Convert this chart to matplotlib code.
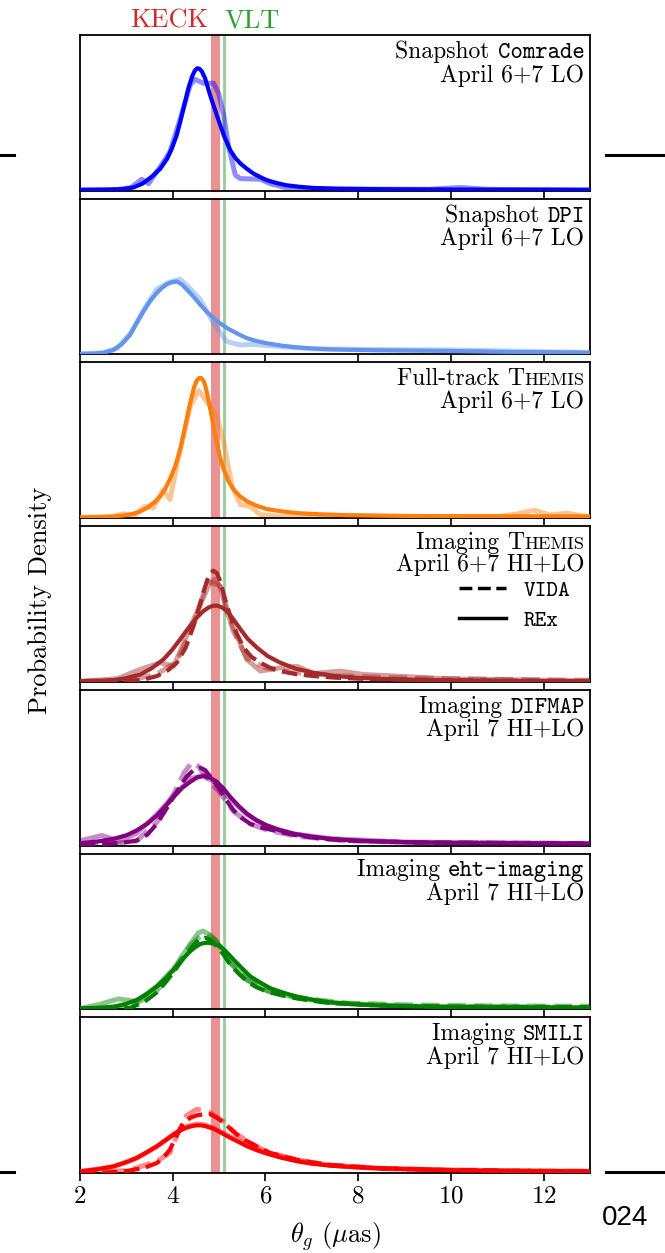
import matplotlib
matplotlib.use("Agg")
from matplotlib import pyplot as plt
from matplotlib.lines import Line2D
from matplotlib.offsetbox import TextArea, HPacker, VPacker, AnchoredOffsetbox

plt.rcParams['font.family'] = 'serif'
plt.rcParams['font.serif'] = ['cmr10']
plt.rcParams['mathtext.fontset'] = 'cm'
plt.rcParams['axes.formatter.use_mathtext'] = True
plt.rcParams['axes.unicode_minus'] = False

# --- data (relative probability density vs theta_g in uas) ---

# Snapshot Comrade
comrade_x = [2.0, 2.5, 2.9, 3.15, 3.35, 3.55, 3.73, 3.88, 3.98, 4.08, 4.16, 4.25, 4.34, 4.42, 4.48, 4.53, 4.58, 4.63, 4.70, 4.81, 4.95, 5.10, 5.24, 5.35, 5.46, 5.6, 5.74, 5.9, 6.03, 6.25, 6.46, 6.75, 7.04, 7.6, 8.5, 10.0, 13.0]
comrade_fit = [0.005, 0.006, 0.009, 0.02, 0.045, 0.09, 0.14, 0.205, 0.27, 0.35, 0.44, 0.55, 0.66, 0.735, 0.772, 0.786, 0.782, 0.765, 0.72, 0.61, 0.485, 0.356, 0.26, 0.21, 0.174, 0.14, 0.11, 0.085, 0.067, 0.048, 0.034, 0.024, 0.017, 0.012, 0.009, 0.007, 0.005]
comrade_day_x = [2.0, 2.8, 3.1, 3.33, 3.48, 3.8, 3.94, 4.16, 4.38, 4.48, 4.66, 4.88, 4.99, 5.10, 5.2, 5.35, 5.46, 5.89, 6.1, 6.46, 7.0, 9.5, 10.2, 10.8, 13.0]
comrade_day = [0.004, 0.006, 0.02, 0.073, 0.045, 0.185, 0.25, 0.46, 0.68, 0.715, 0.69, 0.69, 0.625, 0.485, 0.29, 0.1, 0.077, 0.073, 0.045, 0.017, 0.01, 0.008, 0.02, 0.008, 0.004]

# Snapshot DPI
dpi_x = [2.0, 2.3, 2.5, 2.72, 2.9, 3.08, 3.22, 3.37, 3.52, 3.66, 3.78, 3.87, 3.98, 4.09, 4.2, 4.30, 4.45, 4.59, 4.73, 4.88, 5.02, 5.17, 5.4, 5.60, 5.8, 6.03, 6.35, 6.68, 7.0, 7.40, 8.0, 8.48, 9.2, 9.92, 11.36, 13.0]
dpi_fit = [0.003, 0.005, 0.01, 0.028, 0.065, 0.125, 0.2, 0.277, 0.345, 0.396, 0.43, 0.45, 0.464, 0.468, 0.448, 0.418, 0.37, 0.32, 0.275, 0.234, 0.2, 0.169, 0.132, 0.104, 0.086, 0.071, 0.056, 0.045, 0.038, 0.032, 0.028, 0.026, 0.024, 0.022, 0.015, 0.011]
dpi_day_x = [2.0, 2.5, 2.8, 3.1, 3.4, 3.66, 3.9, 4.16, 4.35, 4.59, 4.88, 5.17, 5.46, 5.74, 6.32, 7.0, 8.5, 10.0, 11.5, 13.0]
dpi_day = [0.003, 0.01, 0.04, 0.14, 0.3, 0.42, 0.46, 0.483, 0.43, 0.353, 0.2, 0.082, 0.06, 0.065, 0.05, 0.035, 0.03, 0.028, 0.02, 0.012]

# Full-track THEMIS
fthemis_x = [2.0, 2.5, 2.72, 2.95, 3.15, 3.3, 3.44, 3.6, 3.73, 3.84, 3.94, 4.05, 4.16, 4.27, 4.38, 4.46, 4.52, 4.57, 4.61, 4.66, 4.70, 4.75, 4.81, 4.88, 4.95, 5.02, 5.10, 5.2, 5.31, 5.45, 5.60, 5.8, 6.03, 6.35, 6.68, 7.2, 7.76, 9.2, 13.0]
fthemis_fit = [0.005, 0.007, 0.01, 0.017, 0.028, 0.043, 0.065, 0.1, 0.14, 0.19, 0.25, 0.33, 0.44, 0.59, 0.745, 0.84, 0.885, 0.9, 0.9, 0.885, 0.853, 0.79, 0.70, 0.59, 0.486, 0.39, 0.313, 0.24, 0.184, 0.14, 0.108, 0.08, 0.058, 0.043, 0.032, 0.024, 0.019, 0.013, 0.011]
fthemis_day_x = [2.0, 2.7, 2.94, 3.15, 3.4, 3.58, 3.79, 3.94, 4.12, 4.38, 4.56, 4.74, 4.95, 5.10, 5.28, 5.46, 5.67, 5.89, 6.32, 8.0, 11.0, 11.4, 11.79, 12.15, 12.5, 13.0]
fthemis_day = [0.004, 0.01, 0.028, 0.01, 0.075, 0.065, 0.18, 0.12, 0.38, 0.72, 0.82, 0.745, 0.66, 0.486, 0.205, 0.086, 0.076, 0.022, 0.01, 0.006, 0.01, 0.025, 0.05, 0.02, 0.032, 0.006]

# Imaging THEMIS
ithemis_rex_x = [2.0, 2.4, 2.72, 3.0, 3.30, 3.55, 3.80, 4.0, 4.16, 4.35, 4.52, 4.65, 4.77, 4.86, 4.95, 5.05, 5.17, 5.3, 5.46, 5.62, 5.82, 6.05, 6.32, 6.65, 7.04, 7.5, 7.98, 8.5, 9.2, 10.64, 13.0]
ithemis_rex = [0.005, 0.007, 0.011, 0.024, 0.047, 0.088, 0.144, 0.21, 0.273, 0.35, 0.413, 0.452, 0.477, 0.488, 0.49, 0.48, 0.456, 0.405, 0.338, 0.275, 0.219, 0.165, 0.123, 0.085, 0.058, 0.038, 0.026, 0.019, 0.013, 0.006, 0.004]
ithemis_vida_x = [2.0, 2.6, 3.08, 3.4, 3.66, 3.9, 4.09, 4.28, 4.45, 4.57, 4.66, 4.74, 4.80, 4.87, 4.95, 5.02, 5.12, 5.24, 5.38, 5.53, 5.7, 5.89, 6.1, 6.32, 6.65, 7.04, 7.5, 8.12, 9.92, 13.0]
ithemis_vida = [0.002, 0.003, 0.006, 0.017, 0.037, 0.075, 0.123, 0.22, 0.36, 0.48, 0.574, 0.65, 0.69, 0.714, 0.70, 0.65, 0.54, 0.424, 0.31, 0.219, 0.16, 0.123, 0.09, 0.069, 0.05, 0.037, 0.027, 0.019, 0.011, 0.004]
ithemis_rex_day_x = [2.0, 2.8, 3.3, 3.73, 4.02, 4.45, 4.81, 5.02, 5.17, 5.6, 5.89, 6.32, 6.68, 7.04, 7.62, 8.12, 8.84, 9.92, 13.0]
ithemis_rex_day = [0.003, 0.02, 0.08, 0.123, 0.1, 0.4, 0.64, 0.617, 0.445, 0.144, 0.069, 0.09, 0.1, 0.054, 0.069, 0.047, 0.037, 0.019, 0.006]
ithemis_vida_day_x = [2.0, 3.08, 3.66, 4.09, 4.45, 4.7, 4.9, 5.05, 5.3, 5.6, 6.0, 6.6, 7.5, 9.0, 11.36, 13.0]
ithemis_vida_day = [0.002, 0.01, 0.05, 0.13, 0.37, 0.6, 0.66, 0.6, 0.33, 0.15, 0.09, 0.06, 0.04, 0.025, 0.015, 0.01]

# Imaging DIFMAP
difmap_rex_x = [2.0, 2.4, 2.72, 3.0, 3.22, 3.45, 3.66, 3.85, 4.02, 4.2, 4.38, 4.52, 4.66, 4.8, 4.95, 5.1, 5.24, 5.42, 5.60, 5.8, 6.03, 6.3, 6.61, 7.0, 7.40, 7.9, 8.48, 9.92, 13.0]
difmap_rex = [0.015, 0.027, 0.043, 0.066, 0.097, 0.14, 0.194, 0.255, 0.313, 0.37, 0.41, 0.437, 0.447, 0.437, 0.41, 0.365, 0.313, 0.255, 0.205, 0.163, 0.13, 0.1, 0.076, 0.057, 0.043, 0.033, 0.026, 0.017, 0.013]
difmap_vida_x = [2.0, 2.4, 2.72, 3.0, 3.22, 3.45, 3.66, 3.85, 4.02, 4.17, 4.30, 4.45, 4.59, 4.70, 4.81, 4.92, 5.02, 5.16, 5.31, 5.5, 5.67, 5.85, 6.03, 6.35, 6.68, 7.2, 7.76, 9.2, 13.0]
difmap_vida = [0.005, 0.009, 0.015, 0.022, 0.032, 0.07, 0.14, 0.23, 0.313, 0.385, 0.443, 0.485, 0.5, 0.485, 0.443, 0.4, 0.356, 0.29, 0.227, 0.175, 0.14, 0.12, 0.108, 0.085, 0.065, 0.045, 0.032, 0.02, 0.013]
difmap_rex_day_x = [2.0, 2.47, 2.86, 3.22, 3.66, 4.02, 4.38, 4.66, 4.95, 5.24, 5.6, 6.03, 6.61, 7.4, 9.0, 13.0]
difmap_rex_day = [0.03, 0.065, 0.028, 0.08, 0.2, 0.32, 0.43, 0.45, 0.4, 0.3, 0.2, 0.125, 0.075, 0.045, 0.022, 0.013]
difmap_vida_day_x = [2.0, 2.72, 3.22, 3.66, 4.02, 4.25, 4.41, 4.55, 4.75, 5.02, 5.31, 5.67, 6.03, 6.68, 7.76, 9.2, 13.0]
difmap_vida_day = [0.004, 0.012, 0.03, 0.15, 0.33, 0.47, 0.533, 0.51, 0.43, 0.34, 0.22, 0.14, 0.1, 0.06, 0.03, 0.02, 0.013]

# Imaging eht-imaging
ehtim_rex_x = [2.0, 2.4, 2.72, 3.0, 3.22, 3.45, 3.66, 3.85, 4.02, 4.2, 4.38, 4.5, 4.60, 4.68, 4.77, 4.88, 5.02, 5.16, 5.31, 5.5, 5.67, 5.9, 6.10, 6.4, 6.68, 7.0, 7.40, 7.9, 8.48, 9.92, 13.0]
ehtim_rex = [0.006, 0.01, 0.017, 0.035, 0.06, 0.1, 0.147, 0.2, 0.255, 0.318, 0.374, 0.403, 0.42, 0.426, 0.428, 0.422, 0.406, 0.368, 0.32, 0.262, 0.212, 0.17, 0.136, 0.105, 0.082, 0.062, 0.045, 0.032, 0.024, 0.015, 0.011]
ehtim_vida_x = [2.0, 2.6, 3.08, 3.4, 3.66, 3.85, 4.02, 4.2, 4.38, 4.5, 4.58, 4.70, 4.82, 4.95, 5.1, 5.24, 5.42, 5.60, 5.8, 6.03, 6.35, 6.68, 7.0, 7.40, 8.48, 9.92, 12.0, 13.0]
ehtim_vida = [0.003, 0.005, 0.009, 0.05, 0.11, 0.175, 0.24, 0.315, 0.385, 0.43, 0.45, 0.46, 0.445, 0.406, 0.35, 0.287, 0.23, 0.18, 0.143, 0.114, 0.09, 0.07, 0.055, 0.04, 0.024, 0.017, 0.016, 0.014]
ehtim_rex_day_x = [2.0, 2.4, 2.83, 3.22, 3.66, 4.02, 4.38, 4.55, 4.65, 4.8, 4.95, 5.24, 5.6, 6.03, 6.68, 7.4, 9.0, 13.0]
ehtim_rex_day = [0.005, 0.03, 0.067, 0.05, 0.15, 0.26, 0.42, 0.49, 0.503, 0.48, 0.438, 0.3, 0.19, 0.12, 0.075, 0.043, 0.02, 0.01]
ehtim_vida_day_x = [2.0, 3.08, 3.66, 4.02, 4.38, 4.6, 4.75, 4.9, 5.24, 5.6, 6.03, 6.68, 7.76, 9.2, 11.0, 12.5, 13.0]
ehtim_vida_day = [0.003, 0.012, 0.12, 0.25, 0.41, 0.47, 0.48, 0.45, 0.3, 0.19, 0.12, 0.075, 0.04, 0.028, 0.022, 0.02, 0.02]

# Imaging SMILI
smili_rex_x = [2.0, 2.4, 2.72, 3.0, 3.22, 3.45, 3.66, 3.85, 4.02, 4.17, 4.30, 4.42, 4.52, 4.62, 4.70, 4.88, 5.05, 5.24, 5.42, 5.60, 5.8, 6.03, 6.35, 6.68, 7.0, 7.40, 7.9, 8.48, 9.92, 11.36, 13.0]
smili_rex = [0.011, 0.025, 0.043, 0.07, 0.097, 0.135, 0.173, 0.212, 0.248, 0.275, 0.292, 0.302, 0.307, 0.306, 0.302, 0.285, 0.258, 0.227, 0.2, 0.173, 0.148, 0.125, 0.098, 0.076, 0.06, 0.048, 0.038, 0.03, 0.019, 0.013, 0.011]
smili_vida_x = [2.0, 2.58, 2.85, 3.08, 3.4, 3.66, 3.8, 3.94, 4.1, 4.23, 4.38, 4.52, 4.66, 4.81, 4.95, 5.10, 5.24, 5.38, 5.55, 5.74, 5.9, 6.10, 6.4, 6.68, 7.0, 7.40, 8.48, 9.92, 13.0]
smili_vida = [0.003, 0.004, 0.008, 0.017, 0.035, 0.065, 0.1, 0.151, 0.25, 0.324, 0.355, 0.371, 0.377, 0.378, 0.356, 0.324, 0.285, 0.248, 0.213, 0.184, 0.155, 0.13, 0.105, 0.086, 0.068, 0.052, 0.03, 0.019, 0.011]
smili_rex_day_x = [2.0, 2.72, 3.22, 3.66, 4.02, 4.30, 4.52, 4.70, 4.88, 5.24, 5.60, 6.03, 6.68, 7.40, 8.48, 9.92, 11.36, 13.0]
smili_rex_day = [0.01, 0.04, 0.095, 0.17, 0.25, 0.3, 0.315, 0.31, 0.29, 0.235, 0.18, 0.13, 0.08, 0.05, 0.03, 0.02, 0.013, 0.011]
smili_vida_day_x = [2.0, 2.58, 3.08, 3.66, 3.94, 4.1, 4.3, 4.52, 4.8, 5.10, 5.38, 5.74, 6.10, 6.68, 7.40, 8.48, 9.92, 13.0]
smili_vida_day = [0.003, 0.006, 0.02, 0.075, 0.13, 0.25, 0.37, 0.41, 0.39, 0.33, 0.25, 0.18, 0.13, 0.085, 0.05, 0.03, 0.019, 0.011]

keck_lo, keck_hi = 4.83, 5.02
vlt = 5.10

FS = 17
TT = 'cmtt10'
RM = 'cmr10'


def label_box(ax, line1, line2):
    # line1: list of (text, family, size)
    kids = [TextArea(t, textprops=dict(family=f, fontsize=s)) for t, f, s in line1]
    row1 = HPacker(children=kids, align='baseline', pad=0, sep=0)
    row2 = TextArea(line2, textprops=dict(family=RM, fontsize=FS))
    box = VPacker(children=[row1, row2], align='right', pad=0, sep=0)
    anc = AnchoredOffsetbox(loc='upper right', child=box, pad=0.0,
                            borderpad=0.4, frameon=False)
    ax.add_artist(anc)


def themis(prefix):
    return [(prefix, RM, FS), ('T', RM, FS), ('HEMIS', RM, FS * 0.78)]


fig, axes = plt.subplots(7, 1, figsize=(6.65, 12.53), dpi=100, sharex=True)
fig.subplots_adjust(left=0.1203, right=0.8872, top=0.9721, bottom=0.0638, hspace=0.052)

panels = [
    ('blue', [(comrade_x, comrade_fit, '-')], [(comrade_day_x, comrade_day, '-')],
     [('Snapshot ', RM, FS), ('Comrade', TT, FS)], 'April 6+7 LO'),
    ('cornflowerblue', [(dpi_x, dpi_fit, '-')], [(dpi_day_x, dpi_day, '-')],
     [('Snapshot ', RM, FS), ('DPI', TT, FS)], 'April 6+7 LO'),
    ('#ff7f0e', [(fthemis_x, fthemis_fit, '-')], [(fthemis_day_x, fthemis_day, '-')],
     themis('Full-track '), 'April 6+7 LO'),
    ('brown', [(ithemis_rex_x, ithemis_rex, '-'), (ithemis_vida_x, ithemis_vida, '--')],
     [(ithemis_rex_day_x, ithemis_rex_day, '-'), (ithemis_vida_day_x, ithemis_vida_day, '--')],
     themis('Imaging '), 'April 6+7 HI+LO'),
    ('purple', [(difmap_rex_x, difmap_rex, '-'), (difmap_vida_x, difmap_vida, '--')],
     [(difmap_rex_day_x, difmap_rex_day, '-'), (difmap_vida_day_x, difmap_vida_day, '--')],
     [('Imaging ', RM, FS), ('DIFMAP', TT, FS)], 'April 7 HI+LO'),
    ('green', [(ehtim_rex_x, ehtim_rex, '-'), (ehtim_vida_x, ehtim_vida, '--')],
     [(ehtim_rex_day_x, ehtim_rex_day, '-'), (ehtim_vida_day_x, ehtim_vida_day, '--')],
     [('Imaging ', RM, FS), ('eht-imaging', TT, FS)], 'April 7 HI+LO'),
    ('red', [(smili_rex_x, smili_rex, '-'), (smili_vida_x, smili_vida, '--')],
     [(smili_rex_day_x, smili_rex_day, '-'), (smili_vida_day_x, smili_vida_day, '--')],
     [('Imaging ', RM, FS), ('SMILI', TT, FS)], 'April 7 HI+LO'),
]

for ax, (col, main, light, l1, l2) in zip(axes, panels):
    ax.axvspan(keck_lo, keck_hi, color='tab:red', alpha=0.5, lw=0, zorder=1)
    ax.axvline(vlt, color='tab:green', alpha=0.5, lw=2, zorder=1)
    for x, y, ls in light:
        ax.plot(x, y, color=col, ls=ls, lw=3.6, alpha=0.45, zorder=2)
    for x, y, ls in main:
        ax.plot(x, y, color=col, ls=ls, lw=3, zorder=3)
    ax.set_xlim(2, 13)
    ax.set_ylim(0, 1)
    ax.set_yticks([])
    ax.set_xticks([2, 4, 6, 8, 10, 12])
    ax.tick_params(axis='x', direction='out', length=5.5, width=1.2, labelsize=18)
    for s in ax.spines.values():
        s.set_linewidth(1.3)
    label_box(ax, l1, l2)

# legend in the imaging THEMIS panel
handles = [Line2D([], [], color='k', ls='--', lw=2.5), Line2D([], [], color='k', ls='-', lw=2.5)]
axes[3].legend(handles, ['VIDA', 'REx'], loc='center right', bbox_to_anchor=(1.0, 0.49),
               frameon=False, prop=dict(family=TT, size=16), handlelength=2.1,
               labelspacing=0.4, handletextpad=0.8)

# telescope labels above the top panel
trans = axes[0].get_xaxis_transform()
axes[0].text(keck_lo - 0.06, 1.05, 'KECK', color='tab:red', ha='right', va='baseline',
             fontsize=19, transform=trans)
axes[0].text(vlt + 0.02, 1.05, 'VLT', color='tab:green', ha='left', va='baseline',
             fontsize=19, transform=trans)

fig.text(0.06, 0.521, 'Probability Density', rotation=90, ha='center', va='center', fontsize=19)
fig.text(0.504, 0.0135, r'$\theta_g$ ($\mu$as)', ha='center', va='center', fontsize=19)

# page edge marks visible in the reference crop
for yy in (1 - 155 / 1253, 1 - 1172 / 1253):
    fig.add_artist(Line2D([0, 14 / 665], [yy, yy], transform=fig.transFigure, color='k', lw=2.2))
    fig.add_artist(Line2D([606 / 665, 1], [yy, yy], transform=fig.transFigure, color='k', lw=2.2))
fig.text(0.905, 1 - 1218 / 1253, '024', family='Liberation Sans', fontsize=20, va='center')

plt.savefig('out.png', dpi=100)
